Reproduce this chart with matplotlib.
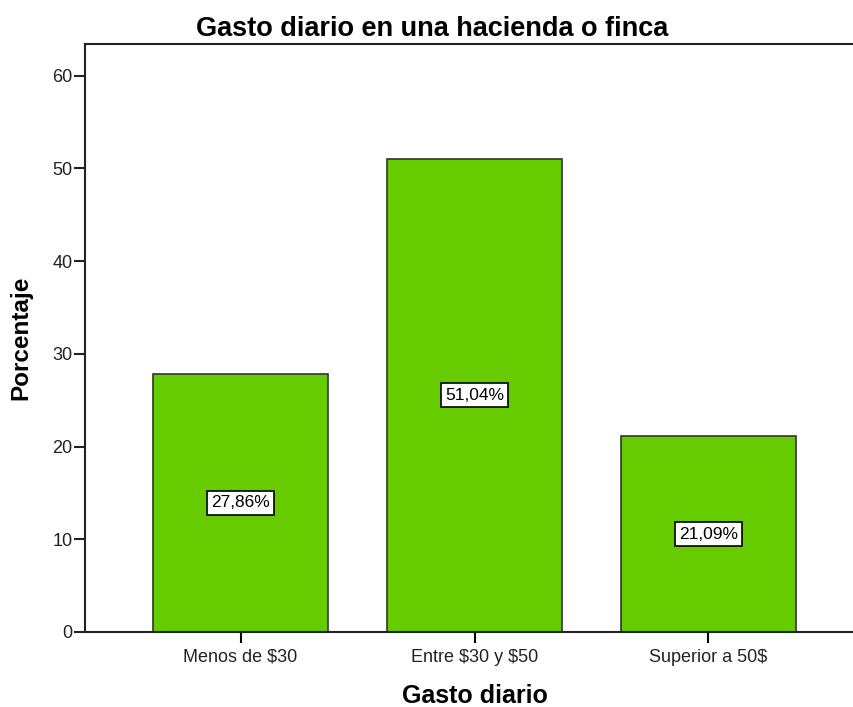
import matplotlib
matplotlib.use("Agg")
import matplotlib.pyplot as plt

categories = ["Menos de \\$30", "Entre \\$30 y \\$50", "Superior a 50\\$"]
values = [27.86, 51.04, 21.09]
labels = ["27,86%", "51,04%", "21,09%"]
yticks = [0, 10, 20, 30, 40, 50, 60]

plt.rcParams["font.family"] = ["Liberation Sans", "DejaVu Sans"]

W, H = 854, 707
fig = plt.figure(figsize=(W / 100, H / 100), dpi=100)
ax = fig.add_axes([85 / W, (H - 632) / H, (864 - 85) / W, (632 - 44) / H])

x = list(range(len(categories)))
ax.bar(x, values, width=0.748, color="#66CC00", edgecolor="#333333", linewidth=1.2, zorder=2)

for xi, v, lab in zip(x, values, labels):
    ax.text(xi, v / 2, lab, ha="center", va="center", fontsize=12.5, color="black",
            bbox=dict(boxstyle="square,pad=0.25", facecolor="white", edgecolor="black", linewidth=1.2),
            zorder=3)

ax.set_xlim(-0.665, 2.665)
ax.set_ylim(0, 63.4)
ax.set_yticks(yticks)
ax.set_xticks(x)
ax.set_xticklabels(categories, fontsize=13, color="#222222")
ax.tick_params(axis="y", labelsize=13, length=8, width=1.5, colors="#222222", pad=1)
ax.tick_params(axis="x", length=8, width=1.5, pad=4)

for side in ["left", "bottom", "top"]:
    ax.spines[side].set_linewidth(1.5)
    ax.spines[side].set_color("#222222")
ax.spines["right"].set_visible(False)

ax.set_ylabel("Porcentaje", fontsize=17.5, fontweight="bold", labelpad=14)
ax.set_xlabel("Gasto diario", fontsize=18, fontweight="bold", labelpad=13)
fig.text(432 / W, 1 - 29 / H, "Gasto diario en una hacienda o finca", ha="center", va="center",
         fontsize=19.5, fontweight="bold")

fig.savefig("out.png", dpi=100)
